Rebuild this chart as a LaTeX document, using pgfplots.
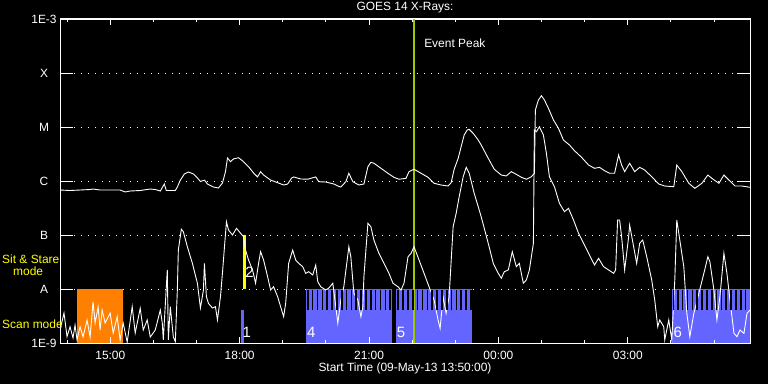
\documentclass[border=0pt]{standalone}
\usepackage{fontspec}
\setmainfont{Liberation Sans}
\usepackage{pgfplots}
\pgfplotsset{compat=1.18}
\usetikzlibrary{backgrounds}
\definecolor{scanblue}{RGB}{100,100,255}
\definecolor{ssorange}{RGB}{255,128,0}
\definecolor{peakgreen}{RGB}{160,200,0}
\definecolor{ssyellow}{RGB}{255,255,0}
\begin{document}
\begin{tikzpicture}[font=\fontsize{12}{14}\selectfont]
\begin{axis}[name=ax, at={(0,0)}, anchor=south west, scale only axis,
  width=690bp, height=324bp,
  xmin=0, xmax=16, ymode=log, ymin=1e-9, ymax=1e-3,
  axis line style={white, line width=1bp},
  xtick=\empty,
  ytick={1e-9,1e-8,1e-7,1e-6,1e-5,1e-4,1e-3},
  yticklabels={1E-9,A,B,C,M,X,1E-3},
  yminorticks=false,
  ytick align=inside, ytick pos=both, yticklabel pos=left,
  major tick length=13bp,
  tick style={white, line width=1bp},
  yticklabel style={white, anchor=center, xshift=-16bp},
  ymajorgrids,
  major grid style={white, line width=1bp, dash pattern=on 1bp off 6bp},
]
% Sit & Stare (orange, yellow) and Scan mode (blue) blocks
\addplot[draw=none, fill=ssorange] coordinates {(0.395,1e-9) (0.395,1e-8) (1.465,1e-8) (1.465,1e-9)};
\addplot[draw=none, fill=scanblue] coordinates {(4.186,1e-9) (4.186,4.1e-9) (4.256,4.1e-9) (4.256,1e-9)};
\addplot[draw=none, fill=ssyellow] coordinates {(4.233,1e-8) (4.233,1e-7) (4.302,1e-7) (4.302,1e-8)};
\addplot[draw=none, fill=scanblue] coordinates {(5.698,1e-9) (5.698,1e-8) (7.698,1e-8) (7.698,1e-9)};
\addplot[draw=none, fill=scanblue] coordinates {(7.791,1e-9) (7.791,1e-8) (9.558,1e-8) (9.558,1e-9)};
\addplot[draw=none, fill=scanblue] coordinates {(14.186,1e-9) (14.186,1e-8) (16,1e-8) (16,1e-9)};
% gaps between scan stripes
\addplot[only marks, mark=|, mark size=10bp, mark options={black, line width=1.6bp}] table {
h f
5.747 6.26e-9
5.859 6.26e-9
5.971 6.26e-9
6.084 6.26e-9
6.196 6.26e-9
6.308 6.26e-9
6.421 6.26e-9
6.533 6.26e-9
6.645 6.26e-9
6.758 6.26e-9
6.870 6.26e-9
6.982 6.26e-9
7.095 6.26e-9
7.207 6.26e-9
7.319 6.26e-9
7.432 6.26e-9
7.544 6.26e-9
7.656 6.26e-9
7.844 6.26e-9
7.956 6.26e-9
8.068 6.26e-9
8.181 6.26e-9
8.293 6.26e-9
8.405 6.26e-9
8.518 6.26e-9
8.630 6.26e-9
8.742 6.26e-9
8.855 6.26e-9
8.967 6.26e-9
9.079 6.26e-9
9.192 6.26e-9
9.304 6.26e-9
9.416 6.26e-9
9.529 6.26e-9
14.230 6.26e-9
14.326 6.26e-9
14.438 6.26e-9
14.551 6.26e-9
14.663 6.26e-9
14.775 6.26e-9
14.888 6.26e-9
15.000 6.26e-9
15.112 6.26e-9
15.225 6.26e-9
15.337 6.26e-9
15.449 6.26e-9
15.562 6.26e-9
15.674 6.26e-9
15.786 6.26e-9
15.899 6.26e-9
};
% event peak
\addplot[peakgreen, line width=2bp] coordinates {(8.209,1e-9) (8.209,1e-3)};
% long channel
\addplot[white, line width=0.9bp] table {
h f
0.000 6.81e-7
0.233 6.67e-7
0.465 6.81e-7
0.698 6.96e-7
0.767 7.11e-7
0.930 6.81e-7
1.163 6.81e-7
1.395 6.81e-7
1.512 6.26e-7
1.628 6.53e-7
1.860 6.67e-7
2.093 7.11e-7
2.209 6.96e-7
2.326 6.53e-7
2.419 8.80e-7
2.465 6.67e-7
2.674 6.67e-7
2.721 7.74e-7
2.791 1.04e-6
2.884 1.35e-6
2.977 1.47e-6
3.093 1.35e-6
3.186 1.14e-6
3.256 9.79e-7
3.349 1.04e-6
3.419 8.80e-7
3.558 7.74e-7
3.674 7.42e-7
3.767 9.18e-7
3.837 1.49e-6
3.884 2.67e-6
3.953 2.28e-6
4.023 2.56e-6
4.140 2.70e-6
4.256 2.28e-6
4.372 1.84e-6
4.488 1.41e-6
4.581 1.19e-6
4.651 1.49e-6
4.721 1.29e-6
4.814 1.14e-6
4.884 1.04e-6
5.047 9.30e-7
5.186 8.43e-7
5.279 8.80e-7
5.372 1.14e-6
5.419 1.19e-6
5.581 1.09e-6
5.744 1.08e-6
5.930 1.19e-6
6.000 9.70e-7
6.163 9.58e-7
6.349 8.80e-7
6.442 8.08e-7
6.512 7.74e-7
6.628 9.70e-7
6.698 1.39e-6
6.791 9.70e-7
6.930 8.43e-7
7.047 8.80e-7
7.140 1.84e-6
7.209 2.22e-6
7.279 2.13e-6
7.442 1.72e-6
7.605 1.39e-6
7.744 1.17e-6
7.860 1.08e-6
8.023 1.12e-6
8.093 1.49e-6
8.209 1.65e-6
8.372 1.39e-6
8.535 1.17e-6
8.674 9.07e-7
8.837 8.43e-7
9.000 8.08e-7
9.070 9.30e-7
9.140 1.65e-6
9.233 2.63e-6
9.302 4.32e-6
9.372 7.11e-6
9.442 8.80e-6
9.488 9.07e-6
9.581 7.64e-6
9.698 5.74e-6
9.767 4.64e-6
9.930 2.63e-6
10.070 1.65e-6
10.233 1.29e-6
10.349 1.24e-6
10.465 1.49e-6
10.581 1.33e-6
10.698 1.17e-6
10.814 1.08e-6
10.930 1.20e-6
11.000 1.39e-6
11.023 2.06e-5
11.093 3.16e-5
11.163 3.80e-5
11.233 3.16e-5
11.326 2.22e-5
11.442 1.35e-5
11.558 9.46e-6
11.674 5.74e-6
11.814 4.64e-6
11.930 3.64e-6
12.093 2.75e-6
12.256 1.98e-6
12.395 1.72e-6
12.512 1.79e-6
12.628 1.55e-6
12.744 1.39e-6
12.860 1.39e-6
12.953 3.03e-6
13.023 1.98e-6
13.093 1.49e-6
13.209 2.13e-6
13.326 1.49e-6
13.442 1.79e-6
13.558 1.60e-6
13.721 1.20e-6
13.884 8.80e-7
14.023 8.08e-7
14.233 7.84e-7
14.302 1.98e-6
14.419 1.49e-6
14.581 9.07e-7
14.721 7.32e-7
14.884 9.07e-7
15.023 1.29e-6
15.116 1.12e-6
15.279 9.07e-7
15.395 1.29e-6
15.512 1.04e-6
15.651 8.08e-7
15.814 8.08e-7
16.000 7.64e-7
};
% short channel
\addplot[white, line width=0.9bp] table {
h f
0.000 1.74e-9
0.093 3.59e-9
0.163 1.31e-9
0.233 2.00e-9
0.302 1.24e-9
0.349 2.15e-9
0.395 1.14e-9
0.465 2.00e-9
0.535 1.29e-9
0.628 2.67e-9
0.698 1.29e-9
0.767 5.82e-9
0.814 2.35e-9
0.884 4.70e-9
0.930 1.74e-9
0.977 4.08e-9
1.047 2.35e-9
1.163 3.59e-9
1.233 1.53e-9
1.326 3.07e-9
1.395 1.14e-9
1.465 2.35e-9
1.558 1.04e-9
1.674 4.70e-9
1.744 1.53e-9
1.860 4.39e-9
1.930 1.74e-9
2.023 2.67e-9
2.093 1.29e-9
2.209 1.74e-9
2.326 4.08e-9
2.372 2.35e-9
2.395 1.14e-9
2.488 2.25e-8
2.512 1.14e-9
2.558 4.70e-9
2.628 1.29e-9
2.674 1.06e-9
2.721 9.58e-9
2.744 5.27e-8
2.814 1.28e-7
2.860 1.15e-7
2.953 6.07e-8
3.070 2.99e-8
3.186 1.28e-8
3.256 4.45e-9
3.326 9.58e-9
3.349 2.99e-8
3.395 7.20e-9
3.442 5.43e-9
3.535 4.45e-9
3.605 4.70e-9
3.651 2.67e-9
3.721 7.20e-9
3.767 1.98e-8
3.814 6.07e-8
3.860 1.76e-7
3.907 1.24e-7
4.000 1.00e-7
4.093 1.33e-7
4.186 1.08e-7
4.256 9.30e-8
4.302 5.27e-8
4.372 3.44e-8
4.465 2.25e-8
4.535 1.28e-8
4.605 2.99e-8
4.651 4.91e-8
4.721 3.44e-8
4.814 1.69e-8
4.884 9.58e-9
4.953 1.10e-8
5.047 7.20e-9
5.116 4.70e-9
5.186 3.07e-9
5.233 5.43e-9
5.302 2.99e-8
5.395 5.27e-8
5.465 3.44e-8
5.535 2.99e-8
5.628 2.59e-8
5.698 1.95e-8
5.767 2.09e-8
5.860 1.82e-8
5.930 2.78e-8
5.977 1.37e-8
6.047 1.10e-8
6.163 9.58e-9
6.233 1.04e-8
6.326 1.28e-8
6.395 4.70e-9
6.442 2.32e-9
6.512 6.26e-9
6.581 1.10e-8
6.698 6.07e-8
6.744 3.96e-8
6.814 8.32e-9
6.907 6.26e-9
6.977 3.07e-9
7.023 4.70e-9
7.047 1.69e-8
7.140 1.65e-7
7.209 1.42e-7
7.279 8.08e-8
7.395 4.58e-8
7.512 2.99e-8
7.628 1.95e-8
7.721 1.28e-8
7.837 1.10e-8
7.907 9.58e-9
7.977 1.28e-8
8.070 3.96e-8
8.140 4.58e-8
8.209 6.07e-8
8.326 3.44e-8
8.442 1.95e-8
8.558 1.10e-8
8.674 6.26e-9
8.767 2.67e-9
8.814 1.87e-9
8.884 7.20e-9
8.953 3.55e-9
9.023 7.20e-9
9.116 1.42e-7
9.186 2.52e-7
9.256 5.12e-7
9.349 1.20e-6
9.419 1.79e-6
9.488 1.39e-6
9.605 5.92e-7
9.767 2.18e-7
9.930 7.02e-8
10.047 2.99e-8
10.163 1.95e-8
10.233 1.58e-8
10.302 2.09e-8
10.395 2.25e-8
10.488 4.91e-8
10.581 2.59e-8
10.651 2.99e-8
10.744 1.28e-8
10.814 1.47e-8
10.884 2.25e-8
10.977 7.02e-8
11.000 8.80e-6
11.047 8.18e-6
11.116 1.01e-5
11.209 7.11e-6
11.279 3.26e-6
11.349 1.20e-6
11.465 7.84e-7
11.581 3.86e-7
11.698 2.70e-7
11.791 3.12e-7
11.907 1.90e-7
12.023 1.08e-7
12.140 7.02e-8
12.256 4.58e-8
12.395 2.78e-8
12.488 3.70e-8
12.535 3.20e-8
12.605 2.59e-8
12.721 2.25e-8
12.837 1.95e-8
12.884 2.25e-8
12.930 1.90e-7
12.977 1.90e-7
13.023 9.30e-8
13.093 2.25e-8
13.186 9.30e-8
13.209 1.53e-7
13.302 6.07e-8
13.372 2.99e-8
13.442 7.02e-8
13.512 8.08e-8
13.605 3.96e-8
13.721 1.47e-8
13.791 6.26e-9
13.860 2.00e-9
13.907 2.67e-9
14.000 2.00e-9
14.023 1.14e-9
14.116 2.67e-9
14.186 1.14e-9
14.256 1.47e-8
14.302 1.90e-7
14.372 8.08e-8
14.465 2.59e-8
14.535 3.55e-9
14.605 1.31e-9
14.698 3.55e-9
14.814 8.32e-9
14.930 1.95e-8
15.023 3.96e-8
15.070 3.20e-8
15.163 9.58e-9
15.233 2.67e-9
15.302 7.20e-9
15.395 4.58e-8
15.465 1.95e-8
15.535 6.26e-9
15.628 1.51e-9
15.698 1.31e-9
15.767 1.74e-9
15.860 1.51e-9
15.930 3.55e-9
16.000 4.08e-9
};
\node[white, inner sep=0, font=\fontsize{15}{17}\selectfont] at (axis cs:4.33,1.6e-9) {1};
\node[white, inner sep=0, font=\fontsize{15}{17}\selectfont] at (axis cs:4.395,2.07e-8) {2};
\node[white, inner sep=0, font=\fontsize{15}{17}\selectfont] at (axis cs:5.826,1.6e-9) {4};
\node[white, inner sep=0, font=\fontsize{15}{17}\selectfont] at (axis cs:7.907,1.6e-9) {5};
\node[white, inner sep=0, font=\fontsize{15}{17}\selectfont] at (axis cs:14.326,1.6e-9) {6};
\node[white, inner sep=0, anchor=west] at (axis cs:8.442,3.6e-4) {Event Peak};
\end{axis}
\begin{axis}[at={(0,0)}, anchor=south west, scale only axis,
  width=690bp, height=324bp,
  xmin=0, xmax=16, ymin=0, ymax=1,
  axis line style={white, line width=1bp},
  ytick=\empty,
  xtick={1.1667,4.1667,7.1667,10.1667,13.1667},
  xticklabels={15:00,18:00,21:00,00:00,03:00},
  minor xtick={0.1667,2.1667,3.1667,5.1667,6.1667,8.1667,9.1667,11.1667,12.1667,14.1667,15.1667},
  xtick align=inside, xtick pos=both, xticklabel pos=bottom,
  major tick length=6bp, minor tick length=3bp,
  tick style={white, line width=1bp},
  xticklabel style={white, anchor=center, yshift=-12bp},
]
\end{axis}
\node[white, inner sep=0] at ([yshift=11bp]ax.north) {GOES 14 X-Rays:};
\node[white, inner sep=0] at ([yshift=-25bp]ax.south) {Start Time (09-May-13 13:50:00)};
\node[ssyellow, inner sep=0, anchor=west] at ([xshift=-58bp,yshift=84bp]ax.south west) {Sit \& Stare};
\node[ssyellow, inner sep=0, anchor=west] at ([xshift=-47bp,yshift=72bp]ax.south west) {mode};
\node[ssyellow, inner sep=0, anchor=west] at ([xshift=-58bp,yshift=19bp]ax.south west) {Scan mode};
\begin{pgfonlayer}{background}
\fill[black] ([xshift=-60bp,yshift=-41bp]ax.south west) rectangle ([xshift=18bp,yshift=19bp]ax.north east);
\end{pgfonlayer}
\end{tikzpicture}
\end{document}
